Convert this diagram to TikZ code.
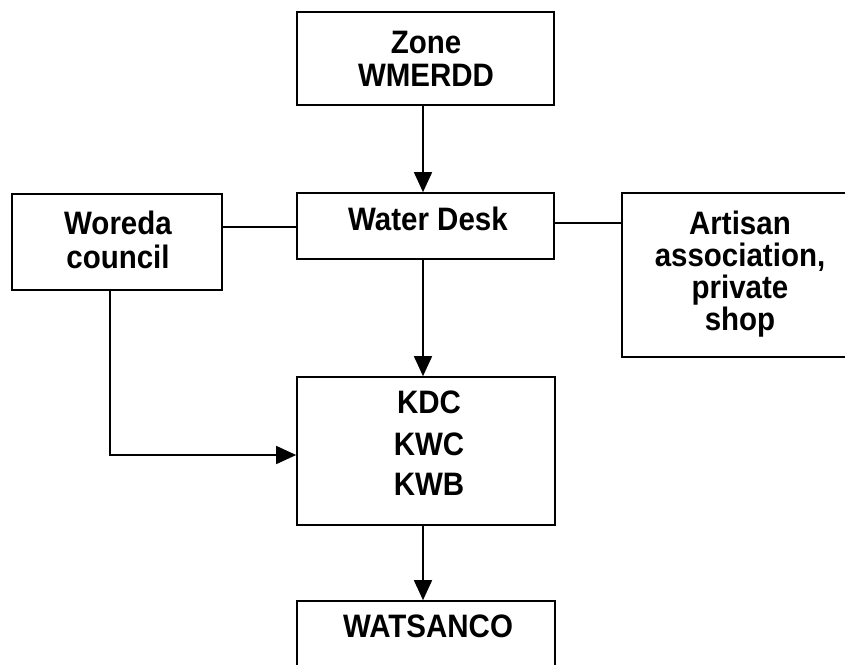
\documentclass[tikz,border=0pt]{standalone}
\usepackage{fontspec}
\usepackage{graphicx}
\setmainfont{Liberation Sans}
\usetikzlibrary{arrows.meta}
\newcommand{\vstr}[1]{\scalebox{1}[1.1]{#1}}
\begin{document}
\begin{tikzpicture}[x=1pt,y=-1pt,
  box/.style={draw, line width=1.7pt, inner sep=0pt},
  tx/.style={anchor=base, inner sep=0pt, font=\fontsize{29.5}{34}\selectfont\bfseries},
  arr/.style={line width=1.7pt, -{Triangle[length=20pt,width=18pt]}},
  ln/.style={line width=1.7pt}]
\useasboundingbox (0,0) rectangle (845,664);
\clip (0,0) rectangle (845,664);
% boxes
\node[box, minimum width=257pt, minimum height=93pt] (zone) at (425.5,58.5) {};
\node[box, minimum width=257pt, minimum height=66pt] (desk) at (425.5,226) {};
\node[box, minimum width=210pt, minimum height=96pt] (woreda) at (117,242) {};
\node[box, minimum width=236pt, minimum height=164pt] (artisan) at (740,275) {};
\node[box, minimum width=258pt, minimum height=148pt] (kdc) at (426,451) {};
\node[box, minimum width=258pt, minimum height=89pt] (wat) at (426,645.5) {};
% texts
\node[tx] (z1) at (426,53) {\vstr{Zone}};
\node[tx] (z2) at (426,86) {\vstr{WMERDD}};
\node[tx] (d1) at (428,230) {\vstr{Water Desk}};
\node[tx] (w1) at (118,234) {\vstr{Woreda}};
\node[tx] (w2) at (118,268) {\vstr{council}};
\node[tx] (a1) at (740,234) {\vstr{Artisan}};
\node[tx] (a2) at (740,266) {\vstr{association,}};
\node[tx] (a3) at (740,298) {\vstr{private}};
\node[tx] (a4) at (740,330) {\vstr{shop}};
\node[tx] (k1) at (429,413) {\vstr{KDC}};
\node[tx] (k2) at (429,455) {\vstr{KWC}};
\node[tx] (k3) at (429,495) {\vstr{KWB}};
\node[tx] (s1) at (428,637) {\vstr{WATSANCO}};
% connectors
\draw[arr] ([xshift=-2.5pt]zone.south) -- ([xshift=-2.5pt]desk.north);
\draw[arr] ([xshift=-2.5pt]desk.south) -- ([xshift=-3pt]kdc.north);
\draw[arr] ([xshift=-3pt]kdc.south) -- ([xshift=-3pt]wat.north);
\draw[ln] ([yshift=-1pt]desk.west) -- ([yshift=-1pt]desk.west -| woreda.east);
\draw[ln] ([yshift=3pt]desk.east) -- ([yshift=3pt]desk.east -| artisan.west);
\draw[arr] ([xshift=-7pt]woreda.south) |- ([yshift=-4pt]kdc.west);
\end{tikzpicture}
\end{document}
